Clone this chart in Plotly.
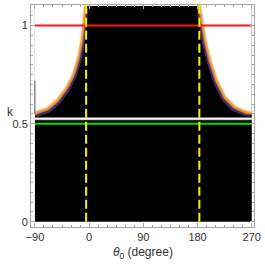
import plotly.graph_objects as go

# ---- data ----
theta_span = [-90, 270]          # extent of the computed region (degree)
k_span = [0, 1.1]                # extent of the computed region (k)

left_theta = [-90, -85.1, -68.8, -52.5, -36.3, -25.3, -17.2, -11.8, -8.1, -5.8]
left_k = [0.548, 0.557, 0.574, 0.616, 0.683, 0.751, 0.835, 0.919, 1.02, 1.10]
right_theta = [182.8, 186.9, 192.2, 200.4, 211.3, 224.8, 241.1, 260.2, 270]
right_k = [1.10, 1.02, 0.919, 0.818, 0.717, 0.633, 0.582, 0.557, 0.552]

spike_theta = [-90, -90]
spike_k = [0.55, 0.72]

k_white = 0.525
k_green = 0.5
k_red = 1.0
dashed_theta = [-5, 183]

x_ticks = [-90, 0, 90, 180, 270]
x_ticklabels = ["\u221290", "0", "90", "180", "270"]
y_ticks = [0, 0.5, 1]
y_ticklabels = ["0", "0.5", "1"]

x_range = [-96.5, 273.7]
y_range = [-0.027, 1.105]

fig = go.Figure()

# black region
fig.add_trace(go.Scatter(
    x=[theta_span[0], theta_span[1], theta_span[1], theta_span[0]],
    y=[k_span[0], k_span[0], k_span[1], k_span[1]],
    fill="toself", fillcolor="black", mode="none", hoverinfo="skip"))

# white regions above the boundary
fig.add_trace(go.Scatter(
    x=left_theta + [theta_span[0]], y=left_k + [k_span[1]],
    fill="toself", fillcolor="white", mode="none", hoverinfo="skip"))
fig.add_trace(go.Scatter(
    x=right_theta + [theta_span[1]], y=right_k + [k_span[1]],
    fill="toself", fillcolor="white", mode="none", hoverinfo="skip"))

# fuzzy coloured edge (peach outside, orange, purple inside)
for th, kk, sgn in [(left_theta, left_k, 1), (right_theta, right_k, -1)]:
    fig.add_trace(go.Scatter(x=[t - sgn * 1.2 for t in th], y=[v + 0.006 for v in kk],
                             mode="lines",
                             line=dict(color="rgba(250,200,140,0.55)", width=3),
                             hoverinfo="skip"))
    fig.add_trace(go.Scatter(x=th, y=kk, mode="lines",
                             line=dict(color="rgba(238,150,50,0.85)", width=3),
                             hoverinfo="skip"))
    fig.add_trace(go.Scatter(x=[t + sgn * 2.4 for t in th], y=[v - 0.011 for v in kk],
                             mode="lines",
                             line=dict(color="rgba(120,70,160,0.6)", width=2.5),
                             hoverinfo="skip"))

# spike artefact
fig.add_trace(go.Scatter(x=spike_theta, y=spike_k, mode="lines",
                         line=dict(color="#555555", width=1), hoverinfo="skip"))

# horizontal lines
fig.add_trace(go.Scatter(x=theta_span, y=[k_white, k_white], mode="lines",
                         line=dict(color="#9a9a9a", width=3.2), hoverinfo="skip"))
fig.add_trace(go.Scatter(x=theta_span, y=[k_white, k_white], mode="lines",
                         line=dict(color="white", width=1.6), hoverinfo="skip"))
fig.add_trace(go.Scatter(x=theta_span, y=[k_green, k_green], mode="lines",
                         line=dict(color="#00DD00", width=2), hoverinfo="skip"))
fig.add_trace(go.Scatter(x=theta_span, y=[k_red, k_red], mode="lines",
                         line=dict(color="#FF1515", width=2), hoverinfo="skip"))

# yellow dashed lines
for t in dashed_theta:
    fig.add_trace(go.Scatter(x=[t, t], y=[k_span[0], y_range[1]], mode="lines",
                             line=dict(color="#F5F500", width=2, dash="9px,4px"),
                             hoverinfo="skip"))

axis_common = dict(showgrid=False, zeroline=False, showline=True, linecolor="#A6A6A6",
                   linewidth=1, mirror="allticks", ticks="inside", ticklen=4,
                   tickcolor="#A6A6A6", tickfont=dict(family="Liberation Sans, Arial", size=11,
                                                      color="#333333"))

fig.update_layout(
    width=265, height=264,
    margin=dict(l=31, r=7, t=4, b=37),
    paper_bgcolor="white", plot_bgcolor="white",
    showlegend=False,
    xaxis=dict(range=x_range, tickvals=x_ticks, ticktext=x_ticklabels,
               minor=dict(dtick=15, tick0=0, ticks="inside", ticklen=2, tickcolor="#A6A6A6"),
               **axis_common),
    yaxis=dict(range=y_range, tickvals=y_ticks, ticktext=y_ticklabels,
               minor=dict(dtick=0.05, tick0=0, ticks="inside", ticklen=2, tickcolor="#A6A6A6"),
               **axis_common),
    annotations=[
        dict(text="k", xref="paper", yref="paper", x=-0.115, y=0.52,
             showarrow=False, font=dict(family="Liberation Sans, Arial", size=12, color="#333333")),
        dict(text="<i>θ</i><sub>0</sub> (degree)", xref="paper", yref="paper",
             x=0.502, y=-0.115, showarrow=False, yanchor="middle",
             font=dict(family="Liberation Sans, Arial", size=12, color="#333333")),
    ],
)

fig.write_html("out.html", config={"displayModeBar": False},
               post_script="document.body.style.margin='0';document.body.style.overflow='hidden';")
